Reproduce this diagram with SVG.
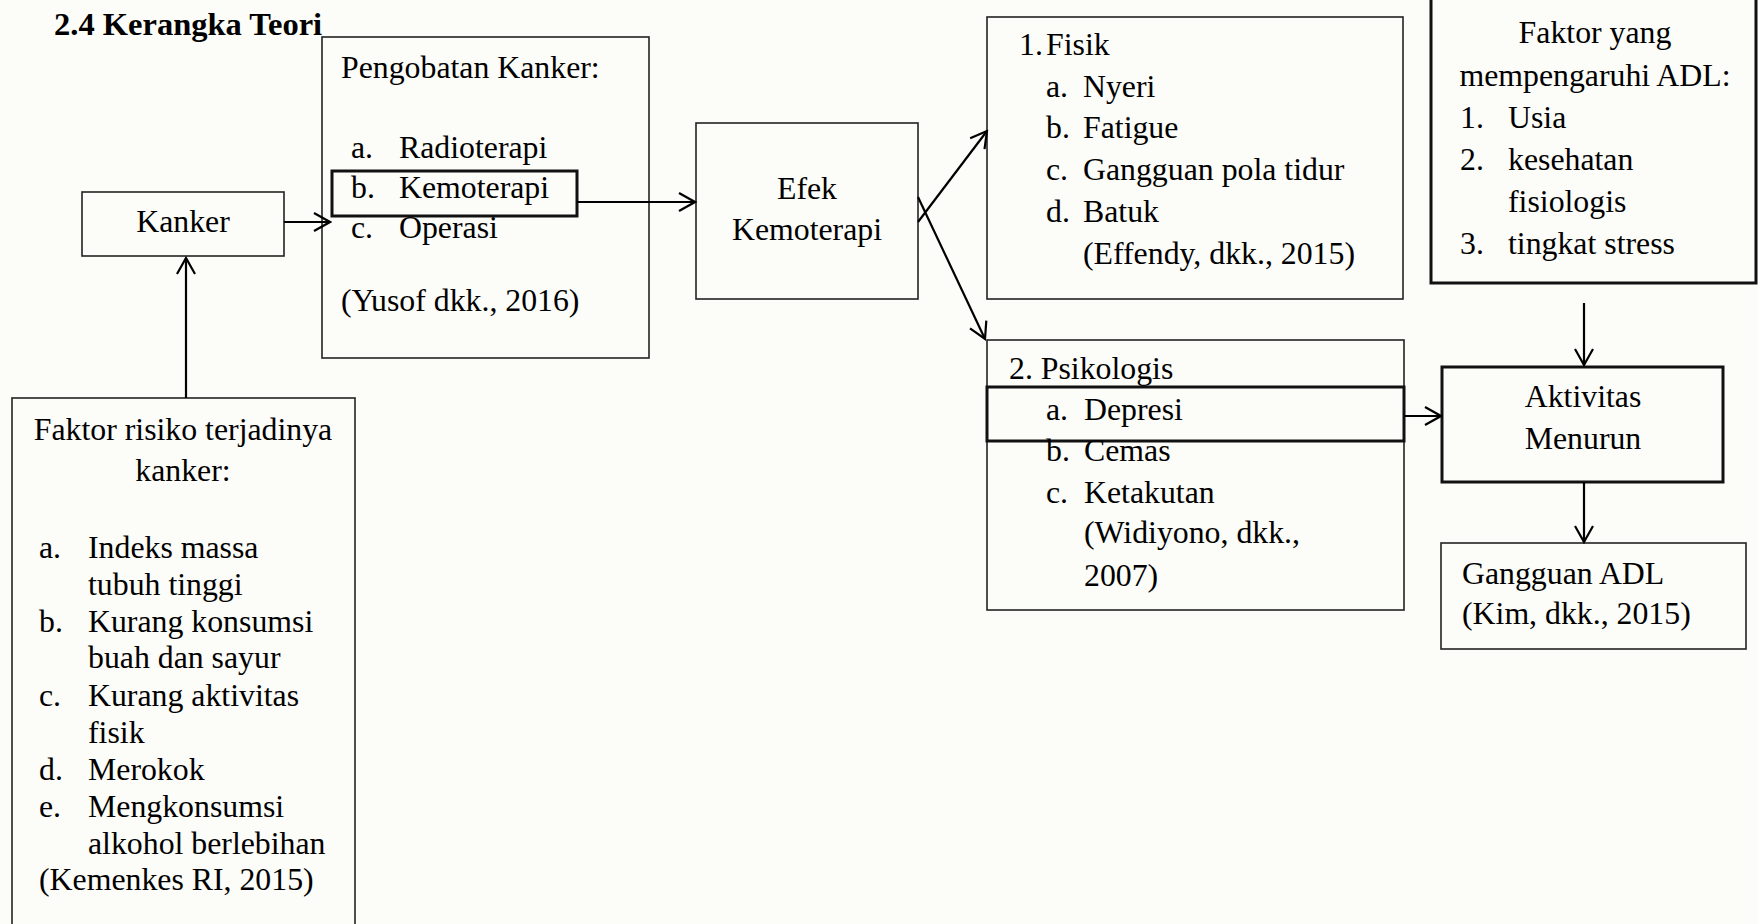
<svg xmlns="http://www.w3.org/2000/svg" width="1758" height="924" viewBox="0 0 1758 924">
<defs>
<style>
.t{font-family:"Liberation Serif","Times New Roman",serif;font-size:31.8px;fill:#000}
.b{font-weight:bold;font-size:32.5px}
.m{text-anchor:middle}
.box{fill:none;stroke:#222;stroke-width:1.6}
.thick{fill:none;stroke:#111;stroke-width:3}
.c{fill:none;stroke:#000;stroke-width:2.2}
</style>
<marker id="ah" viewBox="-18 -11 20 22" refX="0" refY="0" markerWidth="20" markerHeight="22" markerUnits="userSpaceOnUse" orient="auto">
<path d="M-16,-9 L0,0 L-16,9" fill="none" stroke="#000" stroke-width="2.2"/>
</marker>
</defs>
<rect x="0" y="0" width="1758" height="924" fill="#fcfcf8"/>
<text class="t b" x="54" y="35">2.4 Kerangka Teori</text>

<g id="pengobatan">
<rect class="box" x="322" y="37" width="327" height="321"/>
<text class="t" x="341" y="78">Pengobatan Kanker:</text>
<text class="t" x="351" y="158">a.</text><text class="t" x="399" y="158">Radioterapi</text>
<rect class="thick" x="332" y="171" width="245" height="45"/>
<text class="t" x="351" y="198">b.</text><text class="t" x="399" y="198">Kemoterapi</text>
<text class="t" x="351" y="238">c.</text><text class="t" x="399" y="238">Operasi</text>
<text class="t" x="341" y="311">(Yusof dkk., 2016)</text>
</g>

<g id="kanker">
<rect class="box" x="82" y="192" width="202" height="64"/>
<text class="t m" x="183" y="232">Kanker</text>
</g>

<g id="efek">
<rect class="box" x="696" y="123" width="222" height="176"/>
<text class="t m" x="807" y="199">Efek</text>
<text class="t m" x="807" y="240">Kemoterapi</text>
</g>

<g id="fisik">
<rect class="box" x="987" y="17" width="416" height="282"/>
<text class="t" x="1019" y="55">1.</text><text class="t" x="1046" y="55">Fisik</text>
<text class="t" x="1046" y="97">a.</text><text class="t" x="1083" y="97">Nyeri</text>
<text class="t" x="1046" y="138">b.</text><text class="t" x="1083" y="138">Fatigue</text>
<text class="t" x="1046" y="180">c.</text><text class="t" x="1083" y="180">Gangguan pola tidur</text>
<text class="t" x="1046" y="222">d.</text><text class="t" x="1083" y="222">Batuk</text>
<text class="t" x="1083" y="264">(Effendy, dkk., 2015)</text>
</g>

<g id="psikologis">
<rect class="box" x="987" y="340" width="417" height="270"/>
<text class="t" x="1009" y="379">2. Psikologis</text>
<rect class="thick" x="987" y="387" width="417" height="54"/>
<text class="t" x="1046" y="420">a.</text><text class="t" x="1084" y="420">Depresi</text>
<text class="t" x="1046" y="461">b.</text><text class="t" x="1084" y="461">Cemas</text>
<text class="t" x="1046" y="503">c.</text><text class="t" x="1084" y="503">Ketakutan</text>
<text class="t" x="1084" y="543">(Widiyono, dkk.,</text>
<text class="t" x="1084" y="586">2007)</text>
</g>

<g id="faktor-adl">
<rect class="thick" x="1431" y="-4" width="325" height="287"/>
<text class="t m" x="1595" y="43">Faktor yang</text>
<text class="t m" x="1595" y="86">mempengaruhi ADL:</text>
<text class="t" x="1460" y="128">1.</text><text class="t" x="1508" y="128">Usia</text>
<text class="t" x="1460" y="170">2.</text><text class="t" x="1508" y="170">kesehatan</text>
<text class="t" x="1508" y="212">fisiologis</text>
<text class="t" x="1460" y="254">3.</text><text class="t" x="1508" y="254">tingkat stress</text>
</g>

<g id="aktivitas">
<rect class="thick" x="1442" y="367" width="281" height="115"/>
<text class="t m" x="1583" y="407">Aktivitas</text>
<text class="t m" x="1583" y="449">Menurun</text>
</g>

<g id="gangguan">
<rect class="box" x="1441" y="543" width="305" height="106"/>
<text class="t" x="1462" y="584">Gangguan ADL</text>
<text class="t" x="1462" y="624">(Kim, dkk., 2015)</text>
</g>

<g id="faktor-risiko">
<rect class="box" x="12" y="398" width="343" height="540"/>
<text class="t m" x="183" y="440">Faktor risiko terjadinya</text>
<text class="t m" x="183" y="481">kanker:</text>
<text class="t" x="39" y="558">a.</text><text class="t" x="88" y="558">Indeks massa</text>
<text class="t" x="88" y="595">tubuh tinggi</text>
<text class="t" x="39" y="632">b.</text><text class="t" x="88" y="632">Kurang konsumsi</text>
<text class="t" x="88" y="668">buah dan sayur</text>
<text class="t" x="39" y="706">c.</text><text class="t" x="88" y="706">Kurang aktivitas</text>
<text class="t" x="88" y="743">fisik</text>
<text class="t" x="39" y="780">d.</text><text class="t" x="88" y="780">Merokok</text>
<text class="t" x="39" y="817">e.</text><text class="t" x="88" y="817">Mengkonsumsi</text>
<text class="t" x="88" y="854">alkohol berlebihan</text>
<text class="t" x="39" y="890">(Kemenkes RI, 2015)</text>
</g>

<g id="connectors">
<path class="c" d="M284,222 L330,222" marker-end="url(#ah)"/>
<path class="c" d="M186,398 L186,258" marker-end="url(#ah)"/>
<path class="c" d="M577,202 L695,202" marker-end="url(#ah)"/>
<path class="c" d="M918,222 L987,131" marker-end="url(#ah)"/>
<path class="c" d="M918,197 L985,339" marker-end="url(#ah)"/>
<path class="c" d="M1404,416 L1441,416" marker-end="url(#ah)"/>
<path class="c" d="M1584,303 L1584,365" marker-end="url(#ah)"/>
<path class="c" d="M1584,482 L1584,542" marker-end="url(#ah)"/>
</g>
</svg>
